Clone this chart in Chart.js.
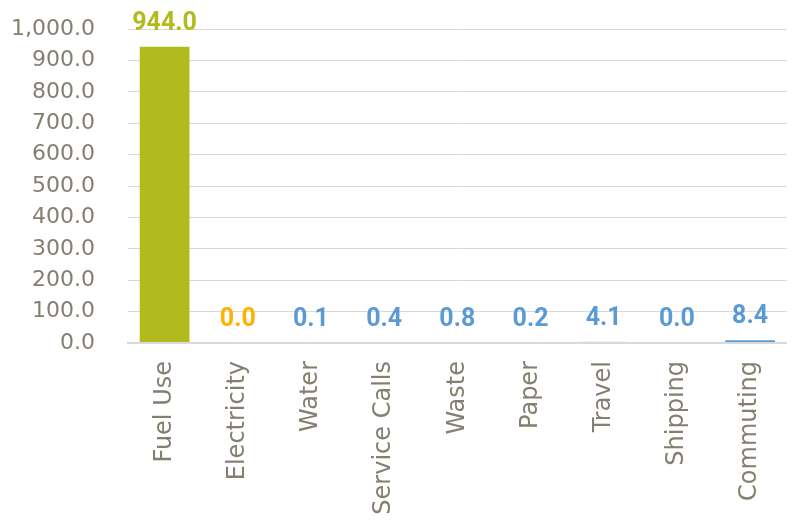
<!DOCTYPE html>
<html><head><meta charset="utf-8">
<script src="https://cdn.jsdelivr.net/npm/chart.js@4/dist/chart.umd.min.js"></script>
<style>html,body{margin:0;padding:0;background:#fff}#wrap{width:797px;height:522px}</style>
</head><body><div id="wrap"><canvas id="c" width="797" height="522"></canvas></div>
<script>
const categories = ['Fuel Use','Electricity','Water','Service Calls','Waste','Paper','Travel','Shipping','Commuting'];
const values = [944.0, 0.0, 0.1, 0.4, 0.8, 0.2, 4.1, 0.0, 8.4];
const barColors = ['#B2BB1E','#FFB000','#5B9BD5','#5B9BD5','#5B9BD5','#5B9BD5','#BDD7EE','#5B9BD5','#5B9BD5'];
const labelColors = ['#B2BB1E','#FFB000','#5B9BD5','#5B9BD5','#5B9BD5','#5B9BD5','#5B9BD5','#5B9BD5','#5B9BD5'];
const yTicks = [0,100,200,300,400,500,600,700,800,900,1000];

const fmt = v => v.toLocaleString('en-US',{minimumFractionDigits:1,maximumFractionDigits:1});

const labelPlugin = {
  id:'vlabels',
  afterDatasetsDraw(chart){
    const ctx = chart.ctx;
    const meta = chart.getDatasetMeta(0);
    ctx.save();
    ctx.font = 'bold 25px Roboto';
    ctx.textAlign = 'center';
    ctx.textBaseline = 'alphabetic';
    meta.data.forEach((bar,i)=>{
      ctx.fillStyle = labelColors[i];
      ctx.fillText(fmt(values[i]), bar.x, bar.y - 17);
    });
    ctx.restore();
  }
};

new Chart(document.getElementById('c'),{
  type:'bar',
  data:{labels:categories,datasets:[{data:values,backgroundColor:barColors,borderWidth:0,categoryPercentage:1,barPercentage:0.68}]},
  options:{
    responsive:false,animation:false,
    layout:{padding:{top:29,right:2,left:0,bottom:0}},
    plugins:{legend:{display:false},tooltip:{enabled:false}},
    scales:{
      x:{
        grid:{display:false,drawTicks:false},
        border:{display:true,color:'#D9D9D9',width:2,z:1},
        ticks:{minRotation:90,maxRotation:90,padding:18,color:'#857F72',font:{family:'DejaVu Sans',size:24}},
        afterFit(s){s.height=179;}
      },
      y:{
        min:0,max:1000,
        afterBuildTicks(s){s.ticks=yTicks.map(v=>({value:v}));},
        grid:{color:'#D9D9D9',lineWidth:1,drawTicks:true,tickLength:17,tickColor:'rgba(0,0,0,0)'},
        border:{display:false},
        ticks:{padding:16,color:'#857F72',font:{family:'DejaVu Sans',size:22},callback:v=>fmt(v)},
        afterFit(s){s.width=128;}
      }
    }
  },
  plugins:[labelPlugin]
});
</script></body></html>
